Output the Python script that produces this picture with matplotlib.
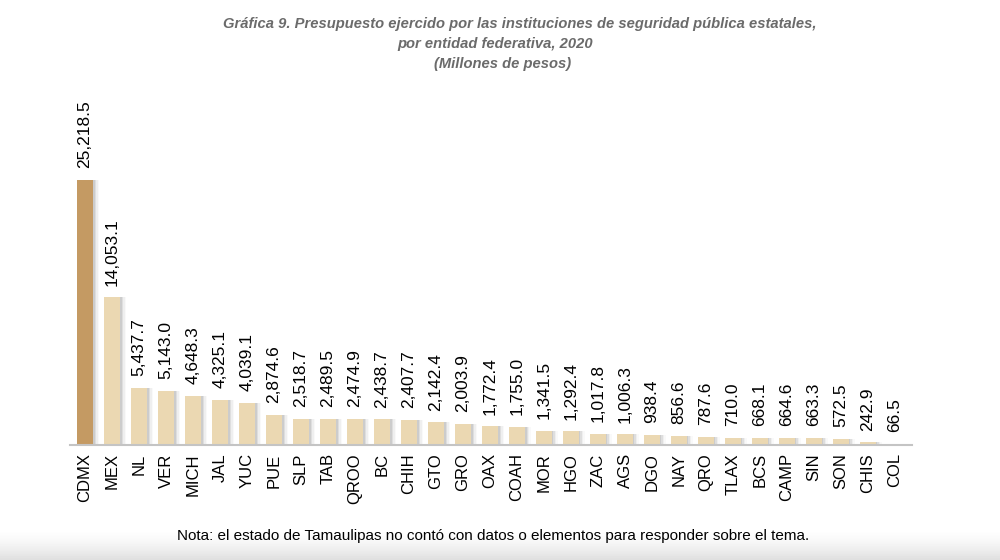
import numpy as np
import matplotlib
matplotlib.use('Agg')
import matplotlib.pyplot as plt

plt.rcParams['font.family'] = ['Liberation Sans', 'DejaVu Sans']

# Datos de la gráfica (millones de pesos)
entidades = ['CDMX', 'MEX', 'NL', 'VER', 'MICH', 'JAL', 'YUC', 'PUE', 'SLP', 'TAB',
             'QROO', 'BC', 'CHIH', 'GTO', 'GRO', 'OAX', 'COAH', 'MOR', 'HGO', 'ZAC',
             'AGS', 'DGO', 'NAY', 'QRO', 'TLAX', 'BCS', 'CAMP', 'SIN', 'SON', 'CHIS', 'COL']
presupuesto = [25218.5, 14053.1, 5437.7, 5143.0, 4648.3, 4325.1, 4039.1, 2874.6, 2518.7, 2489.5,
               2474.9, 2438.7, 2407.7, 2142.4, 2003.9, 1772.4, 1755.0, 1341.5, 1292.4, 1017.8,
               1006.3, 938.4, 856.6, 787.6, 710.0, 668.1, 664.6, 663.3, 572.5, 242.9, 66.5]

W, H = 1000, 560
fig = plt.figure(figsize=(10, 5.6), dpi=100)
fig.patch.set_facecolor('white')

# sombra gris al pie de la imagen
bg = fig.add_axes([0, 0, 1, 1], zorder=-5)
grad = np.ones((H, 1))
ys = np.arange(H)
grad[:, 0] = np.clip((ys - 528) / 32.0, 0, 1)  # 0 arriba, 1 abajo
bg.imshow(1 - 0.13 * grad ** 1.5, cmap='gray', vmin=0, vmax=1, aspect='auto',
          extent=[0, 1, 0, 1], origin='upper')
bg.axis('off')

# ejes: línea base en y=445 px, barras de x=85 a x=895
base_px = 445
top_px = 80
ax = fig.add_axes([70 / W, (H - base_px) / H, 842 / W, (base_px - top_px) / H])
n = len(entidades)
x = np.arange(n)
px_per_unit = 265 / 25218.5
ymax = (base_px - top_px) / px_per_unit
ax.set_xlim(-0.556, n - 1 + 0.63)
ax.set_ylim(0, ymax)

colores = ['#C49A63'] + ['#EBD8B2'] * (n - 1)
ancho = 16 / 27

# sombra difusa a la derecha de cada barra
unit_px = 27.0
for k, a in zip([1.5, 3.0, 4.5, 6.0], [0.18, 0.13, 0.08, 0.04]):
    ax.bar(x + k / unit_px, presupuesto, width=ancho, color='#7a7a7a', alpha=a,
           zorder=1, linewidth=0)
ax.bar(x, presupuesto, width=ancho, color=colores, zorder=2, linewidth=0)

for xi, v in zip(x, presupuesto):
    ax.annotate(f'{v:,.1f}', (xi, v), xytext=(0, 8.5), textcoords='offset points',
                rotation=90, ha='center', va='bottom', fontsize=12.5, color='black')

for s in ['top', 'right', 'left']:
    ax.spines[s].set_visible(False)
ax.spines['bottom'].set_color('#c4c4c4')
ax.spines['bottom'].set_linewidth(1.5)
ax.spines['bottom'].set_zorder(3)
ax.set_yticks([])
ax.set_xticks(x)
ax.set_xticklabels(entidades, rotation=90, fontsize=12)
ax.tick_params(axis='x', length=0, pad=6)
ax.patch.set_alpha(0)

lineas_titulo = [
    ('Gráfica 9. Presupuesto ejercido por las instituciones de seguridad pública estatales,', 520, 24),
    ('por entidad federativa, 2020', 495, 44),
    ('(Millones de pesos)', 503, 64),
]
for txt, cx, cy in lineas_titulo:
    fig.text(cx / W, 1 - cy / H, txt, ha='center', va='center', fontsize=10.6,
             fontweight='bold', fontstyle='italic', color='#6b6b6b')

fig.text(0.493, 1 - 536 / H,
         'Nota: el estado de Tamaulipas no contó con datos o elementos para responder sobre el tema.',
         ha='center', va='center', fontsize=11, color='black')

fig.savefig('out.png', dpi=100, facecolor='white')
